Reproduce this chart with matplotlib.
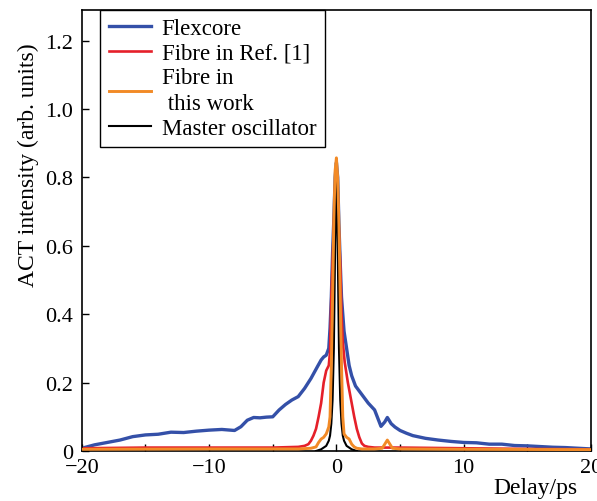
import numpy as np
import matplotlib
matplotlib.use('Agg')
import matplotlib.pyplot as plt
from matplotlib.ticker import MultipleLocator

plt.rcParams['font.family'] = ['Liberation Serif', 'DejaVu Serif']

# Flexcore
blue_x = [-20, -19, -18, -17, -16, -15, -14, -13, -12, -11, -10, -9, -8, -7.5, -7, -6.5, -6,
          -5.5, -5, -4.5, -4, -3.5, -3, -2.5, -2, -1.5, -1.2, -1.0, -0.8, -0.6, -0.5, -0.4,
          -0.3, -0.2, -0.1, 0, 0.1, 0.2, 0.3, 0.4, 0.6, 0.8, 1.0, 1.2, 1.5, 2.0, 2.5, 3.0,
          3.5, 3.8, 4.0, 4.3, 4.6, 5, 5.5, 6, 7, 8, 9, 10, 11, 12, 13, 14, 15, 16, 17, 18,
          19, 20]
blue_y = [0.008, 0.018, 0.025, 0.032, 0.042, 0.047, 0.049, 0.055, 0.054, 0.058, 0.061, 0.063,
          0.06, 0.071, 0.09, 0.098, 0.097, 0.099, 0.10, 0.12, 0.136, 0.149, 0.159, 0.183,
          0.212, 0.246, 0.266, 0.275, 0.28, 0.30, 0.36, 0.45, 0.58, 0.68, 0.80, 0.843, 0.80,
          0.66, 0.55, 0.45, 0.35, 0.30, 0.25, 0.22, 0.19, 0.165, 0.14, 0.12, 0.072, 0.085,
          0.098, 0.08, 0.07, 0.06, 0.052, 0.045, 0.037, 0.032, 0.028, 0.025, 0.024, 0.02,
          0.02, 0.016, 0.015, 0.013, 0.011, 0.01, 0.008, 0.006]

# Fibre in Ref. [1]
red_x = [-20, -15, -10, -5, -3, -2.5, -2.2, -2.0, -1.8, -1.6, -1.4, -1.2, -1.0, -0.8, -0.6,
         -0.5, -0.4, -0.3, -0.2, -0.1, 0, 0.1, 0.2, 0.3, 0.4, 0.5, 0.65, 0.9, 1.2, 1.4, 1.6,
         1.8, 2.0, 2.2, 2.5, 3, 5, 10, 15, 20]
red_y = [0.008, 0.01, 0.01, 0.01, 0.012, 0.015, 0.02, 0.03, 0.045, 0.065, 0.10, 0.14, 0.20,
         0.235, 0.25, 0.29, 0.45, 0.55, 0.66, 0.77, 0.83, 0.76, 0.64, 0.55, 0.40, 0.32, 0.26,
         0.20, 0.14, 0.10, 0.065, 0.04, 0.022, 0.015, 0.012, 0.01, 0.01, 0.008, 0.006, 0.005]

# Fibre in this work
orange_x = [-20, -10, -3, -2, -1.6, -1.4, -1.2, -1.0, -0.8, -0.6, -0.5, -0.4, -0.3, -0.2, -0.1,
            0, 0.1, 0.2, 0.3, 0.4, 0.5, 0.6, 0.8, 1.0, 1.2, 1.4, 1.6, 2, 3, 3.6, 3.8, 4.0,
            4.2, 4.4, 5, 10, 20]
orange_y = [0.005, 0.006, 0.006, 0.008, 0.012, 0.025, 0.035, 0.04, 0.05, 0.07, 0.1, 0.25,
            0.45, 0.68, 0.82, 0.857, 0.8, 0.66, 0.45, 0.25, 0.1, 0.05, 0.04, 0.035, 0.02,
            0.012, 0.008, 0.006, 0.006, 0.008, 0.02, 0.032, 0.02, 0.008, 0.006, 0.005, 0.004]

# Master oscillator
black_x = [-1.6, -1.2, -1.0, -0.8, -0.6, -0.5, -0.4, -0.3, -0.2, -0.1, 0,
           0.1, 0.2, 0.3, 0.4, 0.5, 0.6, 0.8, 1.0, 1.2, 1.6]
black_y = [0.0, 0.005, 0.01, 0.015, 0.03, 0.045, 0.08, 0.15, 0.30, 0.60, 0.82,
           0.60, 0.30, 0.15, 0.08, 0.045, 0.03, 0.015, 0.01, 0.005, 0.0]

fig = plt.figure(figsize=(5.97, 5.02), dpi=100)
ax = fig.add_axes([0.137, 0.0996, 0.853, 0.879])

ax.plot(blue_x, blue_y, color='#3450a8', lw=2.4, label='Flexcore')
ax.plot(red_x, red_y, color='#e5202a', lw=1.9, label='Fibre in Ref. [1]')
ax.plot(black_x, black_y, color='black', lw=1.5, zorder=3)
ax.plot(orange_x, orange_y, color='#f28a26', lw=2.1, label='Fibre in\n this work', zorder=4)
ax.plot([], [], color='black', lw=1.5, label='Master oscillator')

ax.set_xlim(-20, 20)
ax.set_ylim(0, 1.29)
ax.xaxis.set_major_locator(MultipleLocator(10))
ax.xaxis.set_minor_locator(MultipleLocator(5))
ax.set_yticks([0, 0.2, 0.4, 0.6, 0.8, 1.0, 1.2])
ax.set_yticklabels(['0', '0.2', '0.4', '0.6', '0.8', '1.0', '1.2'])
ax.tick_params(which='both', direction='in', length=5, width=1, labelsize=16,
               top=False, right=False)
ax.tick_params(axis='x', pad=5)
ax.tick_params(axis='y', pad=6)
for s in ax.spines.values():
    s.set_linewidth(1.2)

ax.set_ylabel('ACT intensity (arb. units)', fontsize=17)
ax.yaxis.set_label_coords(-0.085, 0.65)
ax.set_xlabel('Delay/ps', fontsize=17)
ax.xaxis.set_label_coords(0.89, -0.06)

leg = ax.legend(loc='upper left', bbox_to_anchor=(0.036, 1.0), fontsize=16.5,
                frameon=True, fancybox=False, edgecolor='black', framealpha=1,
                handlelength=1.85, handletextpad=0.45, borderpad=0.38,
                labelspacing=0.15, borderaxespad=0)
leg.get_frame().set_linewidth(1.0)
leg.get_texts()[2].set_linespacing(1.3)

fig.savefig('out.png', dpi=100)
